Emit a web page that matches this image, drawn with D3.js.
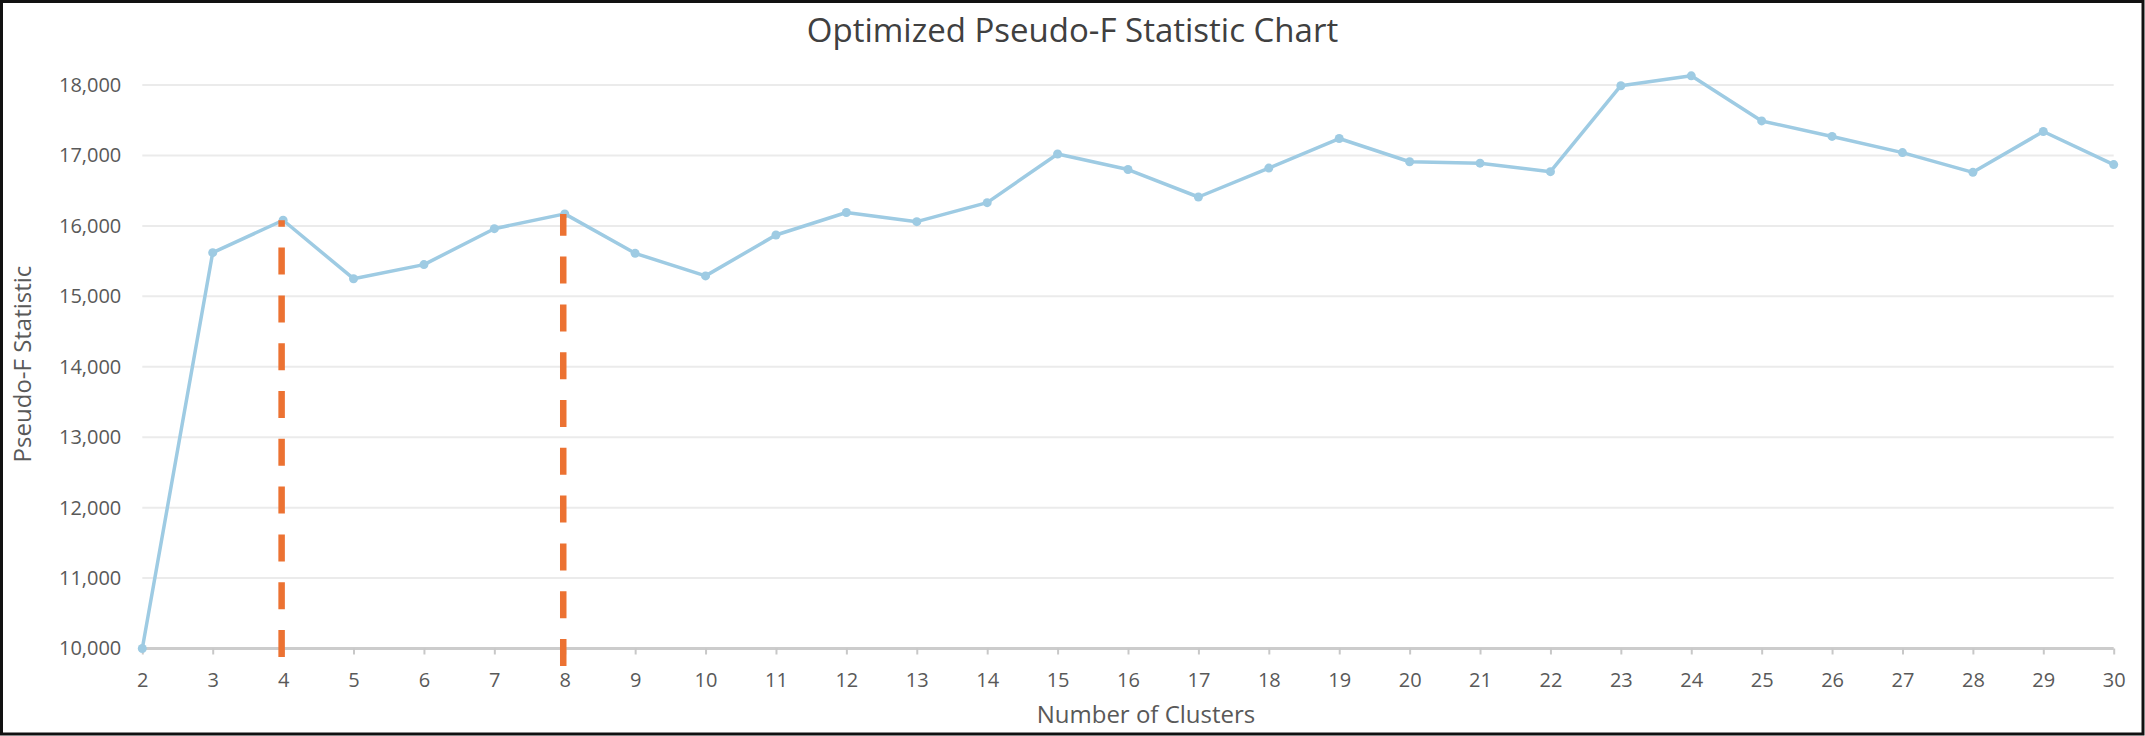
<!DOCTYPE html>
<html>
<head>
<meta charset="utf-8">
<script src="https://cdn.jsdelivr.net/npm/d3@7"></script>
<style>
  html, body { margin: 0; padding: 0; background: #fff; }
  svg { display: block; }
  text { font-family: "Open Sans", "Noto Sans", sans-serif; }
</style>
</head>
<body>
<svg id="chart" width="2145" height="736"></svg>
<script>
// ---- data ----
const clusters = [2,3,4,5,6,7,8,9,10,11,12,13,14,15,16,17,18,19,20,21,22,23,24,25,26,27,28,29,30];
const pseudoF = [10000,15620,16080,15250,15450,15960,16170,15610,15290,15870,16190,16060,16330,17020,
                 16800,16410,16820,17240,16910,16890,16770,17990,18130,17490,17270,17040,16760,17340,16870];
const yTicks = [10000,11000,12000,13000,14000,15000,16000,17000,18000];
const highlighted = [4, 8];
const titleText = "Optimized Pseudo-F Statistic Chart";
const xTitle = "Number of Clusters";
const yTitle = "Pseudo-F Statistic";

// ---- layout ----
const W = 2145, H = 736;
const plotLeft = 142.3, plotRight = 2113.7, plotTop = 85, plotBottom = 648.5;

const svg = d3.select("#chart");

// border
svg.append("rect").attr("x", 1.5).attr("y", 1.5).attr("width", W - 3.5).attr("height", H - 3.5)
  .attr("fill", "#fff").attr("stroke", "#111").attr("stroke-width", 3);

const x = d3.scalePoint().domain(clusters).range([plotLeft, plotRight]);
const y = d3.scaleLinear().domain([10000, 18000]).range([plotBottom, plotTop]);

// gridlines
svg.append("g").selectAll("line").data(yTicks.filter(d => d !== 10000)).join("line")
  .attr("x1", plotLeft).attr("x2", plotRight)
  .attr("y1", d => y(d)).attr("y2", d => y(d))
  .attr("stroke", "#ebebeb").attr("stroke-width", 2);

// y axis labels
const yAxis = d3.axisLeft(y).tickValues(yTicks).tickSize(0).tickPadding(21)
  .tickFormat(d3.format(","));
const gy = svg.append("g").attr("transform", `translate(${plotLeft},0)`).call(yAxis);
gy.select(".domain").remove();
gy.selectAll("text").attr("font-size", 20).attr("fill", "#595959")
  .attr("font-family", "'Open Sans', sans-serif");

// x axis
const xAxis = d3.axisBottom(x).tickSize(6).tickPadding(18);
const gx = svg.append("g").attr("transform", `translate(0,${plotBottom})`).call(xAxis);
gx.select(".domain").attr("stroke", "#cccccc").attr("stroke-width", 3)
  .attr("d", `M${plotLeft},0H${plotRight}`);
gx.selectAll(".tick line").attr("stroke", "#c8c8c8").attr("stroke-width", 2);
gx.selectAll("text").attr("font-size", 20).attr("fill", "#595959")
  .attr("font-family", "'Open Sans', sans-serif");

// series line
const pts = clusters.map((c, i) => ({c, v: pseudoF[i]}));
svg.append("path").datum(pts)
  .attr("fill", "none").attr("stroke", "#9ecbe3").attr("stroke-width", 3.5)
  .attr("stroke-linejoin", "round")
  .attr("d", d3.line().x(d => x(d.c)).y(d => y(d.v)));
svg.append("g").selectAll("circle").data(pts).join("circle")
  .attr("cx", d => x(d.c)).attr("cy", d => y(d.v)).attr("r", 4.5)
  .attr("fill", "#9ecbe3");

// highlighted dashed markers (drawn from below the axis up to the point)
const extraBelow = {4: 8.5, 8: 17.5};
svg.append("g").selectAll("line").data(highlighted).join("line")
  .attr("x1", d => x(d) - 1.5).attr("x2", d => x(d) - 1.5)
  .attr("y1", d => plotBottom + extraBelow[d])
  .attr("y2", d => y(pseudoF[clusters.indexOf(d)]))
  .attr("stroke", "#ec7232").attr("stroke-width", 6.5)
  .attr("stroke-dasharray", "27,20.8");

// titles
svg.append("text").attr("x", W / 2).attr("y", 42).attr("text-anchor", "middle")
  .attr("font-size", 33).attr("fill", "#404040").text(titleText);
svg.append("text").attr("x", 1146).attr("y", 723).attr("text-anchor", "middle")
  .attr("font-size", 24).attr("fill", "#595959").text(xTitle);
svg.append("text").attr("transform", "translate(31,364) rotate(-90)").attr("text-anchor", "middle")
  .attr("font-size", 24).attr("fill", "#595959").text(yTitle);
</script>
</body>
</html>
